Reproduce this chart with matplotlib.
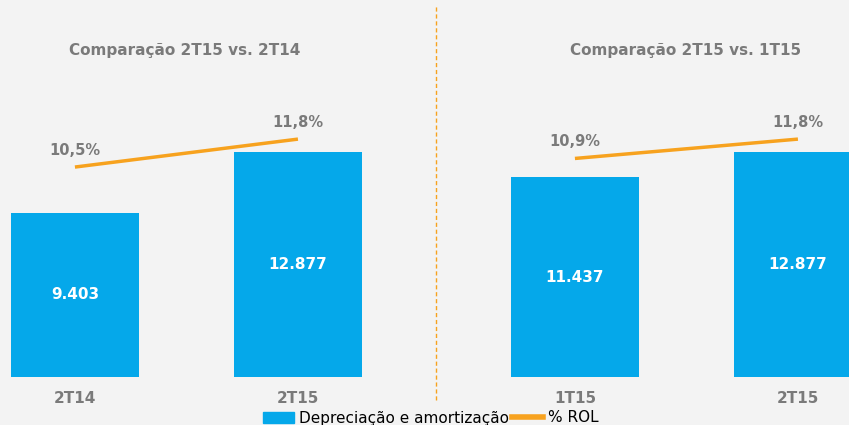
import matplotlib.pyplot as plt
from matplotlib.patches import Patch
from matplotlib.lines import Line2D

# left panel: 2T15 vs 2T14, right panel: 2T15 vs 1T15
titles = ["Comparação 2T15 vs. 2T14", "Comparação 2T15 vs. 1T15"]
categories = [["2T14", "2T15"], ["1T15", "2T15"]]
depreciacao = [[9403, 12877], [11437, 12877]]
rol_pct = [[10.5, 11.8], [10.9, 11.8]]

bar_color = "#05A8EA"
line_color = "#F7A21E"
gray = "#7A7A7A"
bg = "#F3F3F3"


def fmt_int(v):
    return f"{v:,}".replace(",", ".")


def fmt_pct(v):
    return f"{v:.1f}%".replace(".", ",")


W, H = 849, 425
fig = plt.figure(figsize=(W / 100, H / 100), dpi=100, facecolor=bg)

# pixel layout of each panel: (left px, right px, x-limits)
bottom_px = 377
panels = [(0, 436, (-0.336, 1.619)), (436, 849, (-0.623, 1.229))]
ymax = bottom_px * 57.23
y2lim = (0.735, 18.27)

for i, (x0, x1, xlim) in enumerate(panels):
    ax = fig.add_axes([x0 / W, 1 - bottom_px / H, (x1 - x0) / W, bottom_px / H])
    ax.set_facecolor("none")
    xs = [0, 1]
    bars = ax.bar(xs, depreciacao[i], width=0.574, color=bar_color, zorder=2)
    for b, v in zip(bars, depreciacao[i]):
        ax.text(b.get_x() + b.get_width() / 2, v / 2, fmt_int(v), ha="center", va="center",
                color="white", fontsize=11, fontweight="bold")
    ax.set_xlim(*xlim)
    ax.set_ylim(0, ymax)
    ax.set_xticks(xs)
    ax.set_xticklabels(categories[i], fontsize=11, fontweight="bold", color=gray)
    ax.tick_params(axis="x", length=0, pad=10)
    ax.set_yticks([])
    for s in ax.spines.values():
        s.set_visible(False)

    ax2 = ax.twinx()
    ax2.plot(xs, rol_pct[i], color=line_color, lw=2.5, solid_capstyle="butt", zorder=3)
    for x, v in zip(xs, rol_pct[i]):
        ax2.annotate(fmt_pct(v), (x, v), xytext=(0, 12), textcoords="offset points",
                     ha="center", va="center", fontsize=10.5, fontweight="bold", color=gray)
    ax2.set_ylim(*y2lim)
    ax2.set_yticks([])
    for s in ax2.spines.values():
        s.set_visible(False)

    cx = (185 if i == 0 else 686) / W
    fig.text(cx, 1 - 50 / H, titles[i], ha="center", va="center", fontsize=11,
             fontweight="bold", color=gray)

# dashed separator
fig.add_artist(Line2D([436 / W, 436 / W], [1 - 400 / H, 1 - 5 / H], color=line_color,
                      lw=1, ls=(0, (3, 2))))

handles = [Patch(color=bar_color, label="Depreciação e amortização"),
           Line2D([], [], color=line_color, lw=4, label="% ROL")]
fig.legend(handles=handles, loc="center", bbox_to_anchor=(431 / W, 7 / H), ncol=2,
           frameon=False, fontsize=11, handlelength=2, handletextpad=0.35,
           columnspacing=0.2, borderaxespad=0, borderpad=0)

fig.savefig("out.png", dpi=100, facecolor=bg)
